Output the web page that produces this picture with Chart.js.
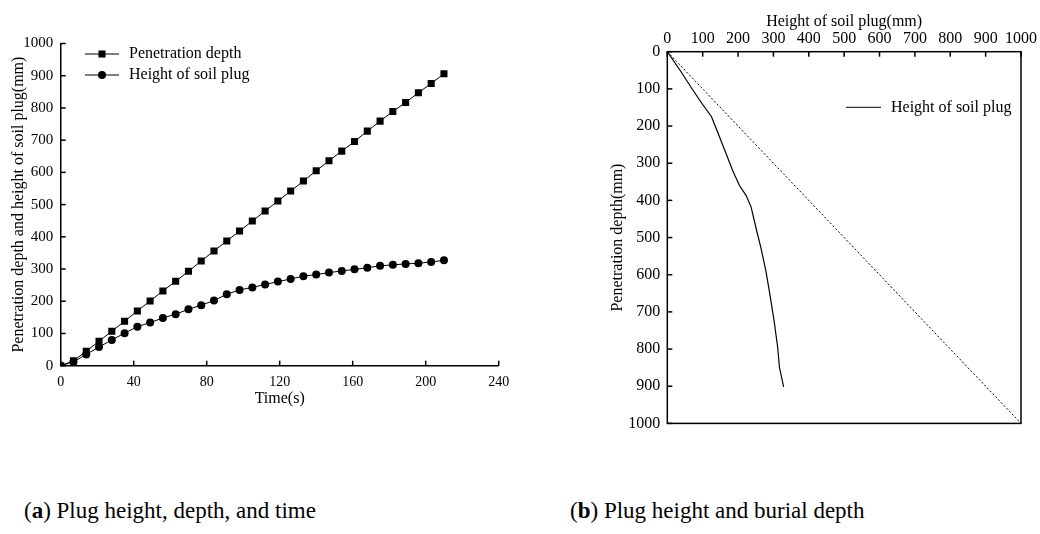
<!DOCTYPE html>
<html>
<head>
<meta charset="utf-8">
<script src="https://cdn.jsdelivr.net/npm/chart.js@4/dist/chart.umd.min.js"></script>
<style>
  body { margin: 0; background: #fff; width: 1040px; height: 534px; position: relative; overflow: hidden; }
  #chartA { position: absolute; left: 0; top: 0; }
  #chartB { position: absolute; left: 520px; top: 0; }
  .cap { position: absolute; top: 499px; font-family: "Liberation Serif", serif; font-size: 23px; line-height: 23px; color: #000; white-space: nowrap; }
</style>
</head>
<body>
<canvas id="chartA" width="520" height="410"></canvas>
<canvas id="chartB" width="520" height="440"></canvas>
<div class="cap" style="left:24px">(<b>a</b>) Plug height, depth, and time</div>
<div class="cap" style="left:570px">(<b>b</b>) Plug height and burial depth</div>
<script>
// (a) time history, one reading every 7 s
const timeS = [0, 7, 14, 21, 28, 35, 42, 49, 56, 63, 70, 77, 84, 91, 98, 105,
  112, 119, 126, 133, 140, 147, 154, 161, 168, 175, 182, 189, 196, 203, 210];
const penetrationDepth = [0, 15, 45, 76, 107, 138, 170, 201, 232, 262, 293, 325, 356, 387, 418, 449,
  480, 511, 542, 573, 605, 636, 666, 696, 728, 759, 789, 817, 847, 876, 906];
const plugHeight = [0, 12, 35, 58, 80, 101, 121, 134, 148, 160, 175, 188, 202, 222, 235, 243,
  252, 261, 269, 278, 283, 289, 294, 299, 304, 310, 313, 316, 318, 322, 327];
const timeTicks = [0, 40, 80, 120, 160, 200, 240];
const mmTicks = [0, 100, 200, 300, 400, 500, 600, 700, 800, 900, 1000];

// (b) plug height against penetration depth
const plugHeightB = [0, 36, 68, 97, 125, 143, 165, 185, 204, 223, 237, 251, 265, 279, 290, 302, 312, 317, 329];
const depthB = [0, 50, 97, 138, 175, 218, 271, 320, 360, 387, 418, 475, 529, 591, 653, 724, 795, 849, 902];
const refX = [0, 1000];
const refY = [0, 1000];

const serif = "'Liberation Serif', 'Times New Roman', serif";
Chart.defaults.font.family = serif;
Chart.defaults.color = '#000';
Chart.defaults.animation = false;

const toPoints = (xs, ys) => xs.map((x, i) => ({ x: x, y: ys[i] }));
const useTicks = list => scale => { scale.ticks = list.map(v => ({ value: v })); };
const plain = v => String(v);

// inward tick marks, optional full frame
const axisDeco = {
  id: 'axisDeco',
  afterDraw(chart, args, opts) {
    const ctx = chart.ctx, a = chart.chartArea;
    ctx.save();
    ctx.strokeStyle = '#000';
    ctx.lineWidth = 1.5;
    if (opts.frame) ctx.strokeRect(a.left, a.top, a.right - a.left, a.bottom - a.top);
    (opts.scales || []).forEach(id => {
      const s = chart.scales[id];
      s.ticks.forEach(t => {
        const p = s.getPixelForValue(t.value);
        ctx.beginPath();
        if (s.isHorizontal()) {
          const y = s.position === 'top' ? a.top : a.bottom;
          ctx.moveTo(p, y);
          ctx.lineTo(p, s.position === 'top' ? y + 5 : y - 5);
        } else {
          ctx.moveTo(a.left, p);
          ctx.lineTo(a.left + 5, p);
        }
        ctx.stroke();
      });
    });
    ctx.restore();
  }
};

// legend with a line sample and its marker
const lineLegend = {
  id: 'lineLegend',
  afterDraw(chart, args, opts) {
    if (!opts.items) return;
    const ctx = chart.ctx, a = chart.chartArea;
    ctx.save();
    ctx.font = '16px ' + serif;
    ctx.textBaseline = 'middle';
    opts.items.forEach((idx, i) => {
      const ds = chart.data.datasets[idx];
      const x = a.left + opts.x, y = a.top + opts.y + i * opts.gap;
      ctx.strokeStyle = '#000';
      ctx.lineWidth = 1;
      ctx.beginPath();
      ctx.moveTo(x, y);
      ctx.lineTo(x + opts.len, y);
      ctx.stroke();
      if (ds.pointRadius) {
        ctx.fillStyle = '#000';
        Chart.helpers.drawPoint(ctx, { pointStyle: ds.pointStyle, radius: ds.pointRadius, borderWidth: 0 }, x + opts.len / 2, y);
      }
      ctx.fillStyle = '#000';
      ctx.fillText(ds.label, x + opts.len + 10, y);
    });
    ctx.restore();
  }
};

new Chart(document.getElementById('chartA'), {
  type: 'scatter',
  data: {
    datasets: [{
      label: 'Penetration depth',
      data: toPoints(timeS, penetrationDepth),
      showLine: true,
      borderColor: '#000',
      borderWidth: 1,
      pointStyle: 'rect',
      pointRadius: 5,
      pointBackgroundColor: '#000',
      pointBorderWidth: 0
    }, {
      label: 'Height of soil plug',
      data: toPoints(timeS, plugHeight),
      showLine: true,
      borderColor: '#000',
      borderWidth: 1,
      pointStyle: 'circle',
      pointRadius: 4,
      pointBackgroundColor: '#000',
      pointBorderWidth: 0
    }]
  },
  plugins: [axisDeco, lineLegend],
  options: {
    responsive: false,
    layout: { padding: { top: 43.5, right: 21.3, left: 0, bottom: 0 } },
    scales: {
      x: {
        type: 'linear', min: 0, max: 240,
        afterBuildTicks: useTicks(timeTicks),
        afterFit: s => { s.height = 44.3; },
        grid: { display: false, drawTicks: false },
        border: { display: true, color: '#000', width: 1.5 },
        ticks: { padding: 8, font: { size: 14 }, maxRotation: 0, autoSkip: false, callback: plain },
        title: { display: true, text: 'Time(s)', font: { size: 16 }, padding: { top: 0, bottom: 1.5 } }
      },
      y: {
        type: 'linear', min: 0, max: 1000,
        afterBuildTicks: useTicks(mmTicks),
        afterFit: s => { s.width = 60.7; },
        grid: { display: false, drawTicks: false },
        border: { display: true, color: '#000', width: 1.5 },
        ticks: { padding: 7.4, font: { size: 15 }, autoSkip: false, callback: plain },
        title: { display: true, text: 'Penetration depth and height of soil plug(mm)', font: { size: 16 }, padding: { top: 9.4, bottom: 0 } }
      }
    },
    plugins: {
      legend: { display: false },
      tooltip: { enabled: false },
      axisDeco: { scales: ['x', 'y'] },
      lineLegend: { items: [0, 1], x: 24.3, y: 10.5, gap: 21, len: 34 }
    }
  }
});

new Chart(document.getElementById('chartB'), {
  type: 'scatter',
  data: {
    datasets: [{
      label: 'Height of soil plug',
      data: toPoints(plugHeightB, depthB),
      showLine: true,
      borderColor: '#000',
      borderWidth: 1.2,
      pointRadius: 0
    }, {
      label: 'reference',
      data: toPoints(refX, refY),
      showLine: true,
      borderColor: '#000',
      borderWidth: 1,
      borderDash: [2, 2],
      pointRadius: 0
    }]
  },
  plugins: [axisDeco, lineLegend],
  options: {
    responsive: false,
    layout: { padding: { top: 0, right: 16.7, left: 80, bottom: 13.3 } },
    scales: {
      x: {
        type: 'linear', position: 'top', min: 0, max: 1000,
        afterBuildTicks: useTicks(mmTicks),
        afterFit: s => { s.height = 51.7; },
        grid: { display: false, drawTicks: false },
        border: { display: false },
        ticks: { padding: 3, font: { size: 16 }, maxRotation: 0, autoSkip: false, callback: plain },
        title: { display: true, text: 'Height of soil plug(mm)', font: { size: 16 }, padding: { top: 12.1, bottom: 0 } }
      },
      y: {
        type: 'linear', reverse: true, min: 0, max: 1000,
        afterBuildTicks: useTicks(mmTicks),
        afterFit: s => { s.width = 67.3; },
        grid: { display: false, drawTicks: false },
        border: { display: false },
        ticks: { padding: 7, font: { size: 16 }, autoSkip: false, callback: plain },
        title: { display: true, text: 'Penetration depth(mm)', font: { size: 16 }, padding: { top: 8.4, bottom: 0 } }
      }
    },
    plugins: {
      legend: { display: false },
      tooltip: { enabled: false },
      axisDeco: { scales: ['x', 'y'], frame: true },
      lineLegend: { items: [0], x: 178.7, y: 55.6, gap: 0, len: 35 }
    }
  }
});
</script>
</body>
</html>
